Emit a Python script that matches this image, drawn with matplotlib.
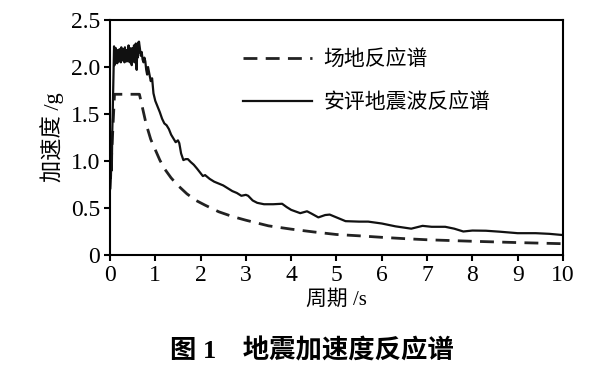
import matplotlib
matplotlib.use("Agg")
import matplotlib.pyplot as plt

plt.rcParams['font.family'] = ['Liberation Serif', 'Noto Sans CJK SC']

# 场地反应谱 (dashed)
site_T = [0.0, 0.1, 0.65, 0.8, 0.9, 1.0, 1.1, 1.2, 1.35, 1.5, 1.7, 1.9, 2.1, 2.4,
          2.7, 3.0, 3.5, 4.0, 4.5, 5.0, 5.5, 6.0, 6.5, 7.0, 8.0, 9.0, 10.0]
site_A = [0.70, 1.71, 1.71, 1.39, 1.23, 1.12, 1.01, 0.92, 0.82, 0.74, 0.65, 0.58, 0.53, 0.46,
          0.41, 0.37, 0.31, 0.275, 0.245, 0.218, 0.204, 0.188, 0.174, 0.162, 0.146, 0.132, 0.12]

# 安评地震波反应谱 (solid)
wave_T = [0.0, 0.01, 0.02, 0.03, 0.04, 0.05, 0.06, 0.08, 0.09, 0.10, 0.11, 0.12, 0.13, 0.14,
          0.15, 0.16, 0.17, 0.18, 0.19, 0.20, 0.21, 0.22, 0.23, 0.24, 0.25, 0.26, 0.27, 0.28,
          0.29, 0.30, 0.31, 0.32, 0.33, 0.34, 0.35, 0.36, 0.37, 0.38, 0.39, 0.40, 0.41, 0.42,
          0.43, 0.44, 0.45, 0.46, 0.47, 0.48, 0.49, 0.50, 0.51, 0.52, 0.53, 0.54, 0.55, 0.56,
          0.57, 0.58, 0.59, 0.60, 0.61, 0.62, 0.63, 0.64, 0.66, 0.68, 0.70, 0.72, 0.74, 0.76,
          0.78, 0.80, 0.82, 0.84, 0.86, 0.88, 0.90, 0.93, 0.96, 1.0, 1.05, 1.1, 1.15, 1.2, 1.25,
          1.3, 1.35, 1.4, 1.45, 1.5, 1.53, 1.57, 1.62, 1.67, 1.72, 1.78, 1.85, 1.92, 2.0, 2.05,
          2.1, 2.2, 2.3, 2.4, 2.5, 2.6, 2.7, 2.8, 2.9, 3.0, 3.05, 3.15, 3.25, 3.4, 3.6, 3.8, 3.9,
          4.0, 4.2, 4.35, 4.45, 4.6, 4.75, 4.85, 5.0, 5.2, 5.5, 5.7, 6.0, 6.3, 6.65, 6.9, 7.1,
          7.4, 7.6, 7.8, 8.0, 8.3, 8.6, 9.0, 9.4, 9.7, 10.0]
wave_A = [0.70, 0.90, 0.82, 1.00, 0.90, 1.30, 1.50, 2.00, 2.22, 2.02, 2.15, 2.05, 2.20, 2.08,
          2.16, 2.04, 2.18, 2.10, 2.14, 2.06, 2.19, 2.09, 2.15, 2.05, 2.21, 2.10, 2.16, 2.07,
          2.19, 2.09, 2.14, 2.05, 2.21, 2.08, 2.16, 2.06, 2.18, 2.10, 2.15, 2.06, 2.23, 2.09,
          2.17, 2.05, 2.20, 2.08, 2.12, 2.02, 2.20, 2.10, 2.16, 2.07, 2.23, 2.05, 2.18, 2.08,
          2.25, 2.00, 1.97, 2.18, 2.10, 2.26, 2.15, 2.27, 2.20, 2.12, 2.16, 2.08, 2.05, 2.10,
          2.06, 1.97, 1.92, 2.00, 1.95, 1.90, 1.85, 1.88, 1.72, 1.64, 1.58, 1.52, 1.45, 1.40, 1.38,
          1.34, 1.28, 1.24, 1.20, 1.22, 1.19, 1.08, 1.01, 1.02, 1.02, 0.99, 0.96, 0.92, 0.87, 0.84,
          0.85, 0.81, 0.78, 0.76, 0.74, 0.71, 0.68, 0.66, 0.63, 0.64, 0.63, 0.58, 0.555, 0.54, 0.54,
          0.545, 0.51, 0.48, 0.445, 0.465, 0.44, 0.40, 0.425, 0.43, 0.40, 0.36, 0.355, 0.355, 0.335,
          0.305, 0.28, 0.31, 0.30, 0.30, 0.28, 0.25, 0.26, 0.258, 0.248, 0.232, 0.232, 0.225, 0.212]

x_ticks = [0, 1, 2, 3, 4, 5, 6, 7, 8, 9, 10]
y_ticks = [0, 0.5, 1.0, 1.5, 2.0, 2.5]

fig = plt.figure(figsize=(6, 3.71), dpi=100)
ax = fig.add_axes([0.1833, 0.3127, 0.755, 0.6333])

ax.plot(site_T, site_A, color='#222222', lw=2.0, linestyle=(0, (5, 3)), label='场地反应谱')
ax.plot(wave_T, wave_A, color='#111111', lw=1.6, label='安评地震波反应谱')

ax.set_xlim(0, 10)
ax.set_ylim(0, 2.5)
ax.set_xticks(x_ticks)
ax.set_yticks(y_ticks)
ax.set_xticklabels([str(t) for t in x_ticks])
ax.set_yticklabels([f"{t:.1f}" if t else "0" for t in y_ticks])
ax.tick_params(direction='out', length=4, width=1.5, labelsize=17, pad=3)
for s in ax.spines.values():
    s.set_linewidth(1.5)

ax.set_xlabel('周期 /s', fontsize=15, labelpad=3)
ax.set_ylabel('加速度 /g', fontsize=16, labelpad=5)

ax.legend(loc='upper left', bbox_to_anchor=(0.405, 0.865), bbox_transform=fig.transFigure,
          frameon=False, fontsize=15, handlelength=3.3, handletextpad=0.55,
          labelspacing=1.1, borderpad=0, borderaxespad=0)

fig.text(0.52, 0.055, '图 1    地震加速度反应谱', ha='center', va='center',
         fontsize=19, fontweight='bold')

fig.savefig('out.png', dpi=100)
